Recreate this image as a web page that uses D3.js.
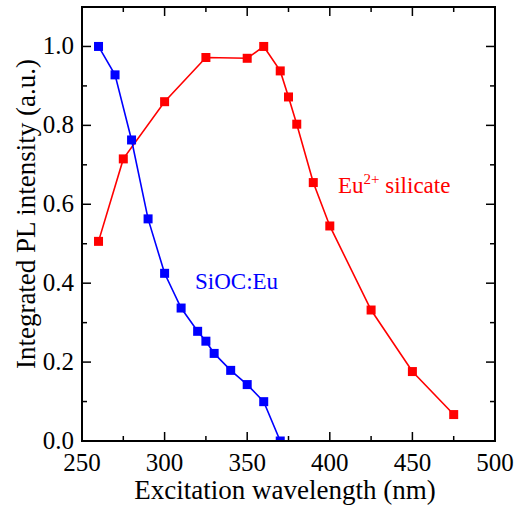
<!DOCTYPE html>
<html><head><meta charset="utf-8">
<script src="https://cdn.jsdelivr.net/npm/d3@7"></script>
<style>body{margin:0;background:#fff}svg{display:block}text{font-family:"Liberation Serif","Times New Roman",serif}</style>
</head><body><svg id="c" width="514" height="508"></svg>
<script>
const siocX = [260,270,280,290,300,310,320,325,330,340,350,360,370];
const siocY = [1.0,0.928,0.763,0.563,0.425,0.337,0.278,0.253,0.222,0.179,0.143,0.0997,0.0];
const silX = [260,275,300,325,350,360,370,375,380,390,400,425,450,475];
const silY = [0.506,0.715,0.860,0.972,0.970,1.0,0.938,0.872,0.803,0.655,0.545,0.332,0.176,0.067];
const xTicks = [250,300,350,400,450,500];
const yTicks = [0.0,0.2,0.4,0.6,0.8,1.0];
const xMinor = [275,325,375,425,475];
const yMinor = [0.1,0.3,0.5,0.7,0.9];

const svg = d3.select("#c");
const L=82,R=495,T=7,B=441;
const x = d3.scaleLinear().domain([250,500]).range([L,R]);
const y = d3.scaleLinear().domain([0,1.1]).range([B,T]);

svg.append("defs").append("clipPath").attr("id","clip").append("rect")
  .attr("x",L).attr("y",T).attr("width",R-L).attr("height",B-T);

const g = svg.append("g").attr("clip-path","url(#clip)");
function series(xs,ys,color){
  const pts = xs.map((v,i)=>[v,ys[i]]);
  g.append("path").datum(pts).attr("fill","none").attr("stroke",color).attr("stroke-width",1.6)
    .attr("d",d3.line().x(d=>x(d[0])).y(d=>y(d[1])));
  g.selectAll(null).data(pts).enter().append("rect")
    .attr("x",d=>x(d[0])-4.5).attr("y",d=>y(d[1])-4.5).attr("width",9).attr("height",9).attr("fill",color);
}
series(silX,silY,"#ff0000");
series(siocX,siocY,"#0000ff");

// axes
const ax = svg.append("g");
function ticksX(vals,len){
  vals.forEach(v=>{
    ax.append("line").attr("x1",x(v)).attr("x2",x(v)).attr("y1",B).attr("y2",B-len).attr("stroke","#000").attr("stroke-width",1.5);
    ax.append("line").attr("x1",x(v)).attr("x2",x(v)).attr("y1",T).attr("y2",T+len).attr("stroke","#000").attr("stroke-width",1.5);
  });
}
function ticksY(vals,len){
  vals.forEach(v=>{
    ax.append("line").attr("y1",y(v)).attr("y2",y(v)).attr("x1",L).attr("x2",L+len).attr("stroke","#000").attr("stroke-width",1.5);
    ax.append("line").attr("y1",y(v)).attr("y2",y(v)).attr("x1",R).attr("x2",R-len).attr("stroke","#000").attr("stroke-width",1.5);
  });
}
ticksX(xTicks,9); ticksX(xMinor,5);
ticksY(yTicks,9); ticksY(yMinor,5);
ax.append("rect").attr("x",L).attr("y",T).attr("width",R-L).attr("height",B-T)
  .attr("fill","none").attr("stroke","#000").attr("stroke-width",2);

ax.selectAll(null).data(xTicks).enter().append("text")
  .attr("x",d=>x(d)).attr("y",471).attr("text-anchor","middle").attr("font-size",25).text(d=>d);
ax.selectAll(null).data(yTicks).enter().append("text")
  .attr("x",74).attr("y",d=>y(d)+8).attr("text-anchor","end").attr("font-size",25).text(d=>d.toFixed(1));

svg.append("text").attr("x",285).attr("y",499).attr("text-anchor","middle").attr("font-size",27)
  .text("Excitation wavelength (nm)");
svg.append("text").attr("transform",`translate(35,214) rotate(-90)`).attr("text-anchor","middle").attr("font-size",27)
  .text("Integrated PL intensity (a.u.)");

svg.append("text").attr("x",195).attr("y",289).attr("font-size",23).attr("fill","#0000ff").text("SiOC:Eu");
const t = svg.append("text").attr("x",338).attr("y",193).attr("font-size",23).attr("fill","#ff0000");
t.append("tspan").text("Eu");
t.append("tspan").attr("dy",-9).attr("font-size",15).text("2+");
t.append("tspan").attr("dy",9).text(" silicate");
</script></body></html>
